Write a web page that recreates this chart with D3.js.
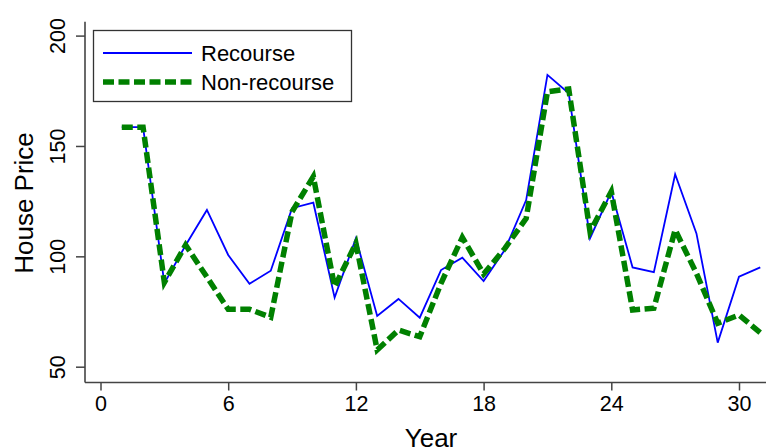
<!DOCTYPE html>
<html>
<head>
<meta charset="utf-8">
<script src="https://cdn.jsdelivr.net/npm/d3@7"></script>
<style>
  html, body { margin: 0; padding: 0; background: #fff; }
  svg { display: block; }
  text { font-family: "Liberation Sans", Arial, Helvetica, sans-serif; fill: #000; }
</style>
</head>
<body>
<svg id="chart" width="766" height="448"></svg>
<script>
const years = d3.range(1, 32);
const recourse = [158.5, 158.5, 87.8, 105, 121, 100.6, 87.6, 93.5, 121.8, 124.3,
  81.3, 108.2, 73.0, 80.7, 72.2, 93.8, 99.4, 88.8, 103, 125.5,
  182.2, 173.9, 108.2, 129.3, 95.0, 92.8, 137.2, 110.4, 60.9, 90.8, 95.0];
const nonRecourse = [158.5, 158.5, 88.2, 105.1, 90.6, 76.0, 76.0, 72.4, 120.2, 136.1,
  86.2, 105.9, 57.6, 66.6, 63.6, 87.8, 108.6, 92.0, 103.6, 117.2,
  174.6, 175.8, 111.2, 129.3, 75.7, 76.5, 112.0, 92.3, 69.7, 73.4, 65.4];
const xTicks = [0, 6, 12, 18, 24, 30];
const yTicks = [50, 100, 150, 200];
const seriesNames = ["Recourse", "Non-recourse"];

const svg = d3.select("#chart");
const plotLeft = 85, plotBottom = 382.5, plotTop = 21.7, plotRight = 770;

const x = d3.scaleLinear().domain([0, 30]).range([100.5, 739]);
const y = d3.scaleLinear().domain([50, 200]).range([366.7, 35.6]);

const axisColor = "#444";

// Y axis
const yAxis = svg.append("g").attr("transform", `translate(${plotLeft},0)`)
  .call(d3.axisLeft(y).tickValues(yTicks).tickSize(9).tickSizeOuter(0).tickFormat(d3.format("d")));
yAxis.select(".domain").remove();
yAxis.selectAll(".tick line").attr("stroke", axisColor).attr("stroke-width", 1.5);
yAxis.selectAll(".tick text").remove();
yAxis.selectAll(".tick").append("text")
  .attr("transform", "translate(-20,0) rotate(-90)")
  .attr("text-anchor", "middle")
  .style("font-size", "21.5px")
  .text(d => d);
svg.append("line").attr("x1", plotLeft).attr("x2", plotLeft).attr("y1", plotTop).attr("y2", plotBottom)
  .attr("stroke", axisColor).attr("stroke-width", 1.6);

// X axis
const xAxis = svg.append("g").attr("transform", `translate(0,${plotBottom})`)
  .call(d3.axisBottom(x).tickValues(xTicks).tickSize(8).tickSizeOuter(0).tickFormat(d3.format("d")));
xAxis.select(".domain").remove();
xAxis.selectAll(".tick line").attr("stroke", axisColor).attr("stroke-width", 1.5);
xAxis.selectAll(".tick text").attr("y", 13).attr("dy", "0.71em")
  .style("font-size", "21.5px").attr("fill", "#000");
svg.append("line").attr("x1", plotLeft).attr("x2", plotRight).attr("y1", plotBottom).attr("y2", plotBottom)
  .attr("stroke", axisColor).attr("stroke-width", 1.6);

// Axis titles
svg.append("text").attr("x", 431).attr("y", 447).attr("text-anchor", "middle")
  .style("font-size", "26px").text("Year");
svg.append("text").attr("transform", "translate(33,203) rotate(-90)").attr("text-anchor", "middle")
  .style("font-size", "26px").text("House Price");

// Lines
const line = d3.line().x((d, i) => x(years[i])).y(d => y(d));
svg.append("path").datum(recourse).attr("d", line)
  .attr("fill", "none").attr("stroke", "#0000ff").attr("stroke-width", 1.8)
  .attr("stroke-linejoin", "miter");
svg.append("path").datum(nonRecourse).attr("d", line)
  .attr("fill", "none").attr("stroke", "#008000").attr("stroke-width", 5.5)
  .attr("stroke-dasharray", "11,4.5").attr("stroke-linejoin", "miter");

// Legend
const lg = svg.append("g");
lg.append("rect").attr("x", 93.5).attr("y", 30.5).attr("width", 258).attr("height", 71)
  .attr("fill", "#fff").attr("stroke", "#333").attr("stroke-width", 1.3);
lg.append("line").attr("x1", 103).attr("x2", 192).attr("y1", 53).attr("y2", 53)
  .attr("stroke", "#0000ff").attr("stroke-width", 1.8);
lg.append("line").attr("x1", 103).attr("x2", 192).attr("y1", 82).attr("y2", 82)
  .attr("stroke", "#008000").attr("stroke-width", 5.5).attr("stroke-dasharray", "11,4.5");
lg.append("text").attr("x", 201).attr("y", 53).attr("dy", "0.36em").style("font-size", "22px").text(seriesNames[0]);
lg.append("text").attr("x", 201).attr("y", 82).attr("dy", "0.36em").style("font-size", "22px").text(seriesNames[1]);
</script>
</body>
</html>
